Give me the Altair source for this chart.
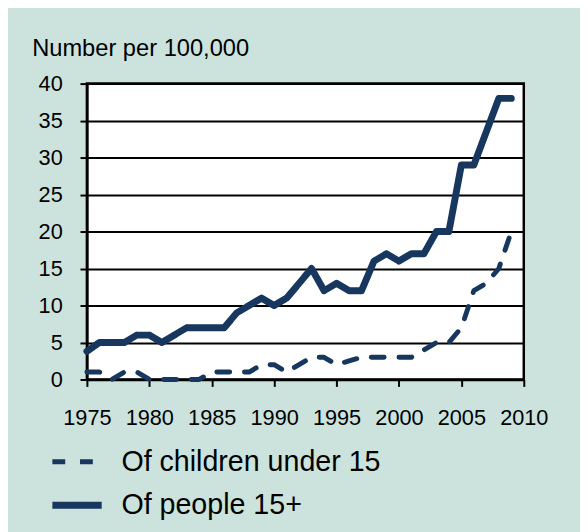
import altair as alt
import pandas as pd

years = list(range(1975, 2010))
people_15_plus = [3.8, 5, 5, 5, 6, 6, 5, 6, 7, 7,
                  7, 7, 9, 10, 11, 10, 11, 13, 15, 12,
                  13, 12, 12, 16, 17, 16, 17, 17, 20, 20,
                  29, 29, 33.5, 38, 38]
children_under_15 = [1, 1, 0, 1, 1, 0, 0, 0, 0, 0,
                     1, 1, 1, 1, 2, 2, 1, 2, 3, 3,
                     2, 2.5, 3, 3, 3, 3, 3, 4, 5, 5,
                     7, 12, 13, 15, 20]
series_names = ["Of children under 15", "Of people 15+"]
x_ticks = [1975, 1980, 1985, 1990, 1995, 2000, 2005, 2010]
y_ticks = [0, 5, 10, 15, 20, 25, 30, 35, 40]

df = pd.DataFrame({
    "year": years + years,
    "value": children_under_15 + people_15_plus,
    "series": [series_names[0]] * len(years) + [series_names[1]] * len(years),
})

FONT = "Liberation Sans, Arial, sans-serif"
NAVY = "#17375e"

legend = alt.Legend(
    title=None, orient="none", legendX=-38.5, legendY=356,
    symbolType="stroke", symbolSize=2500, symbolStrokeColor=NAVY,
    labelFont=FONT, labelFontSize=29, labelColor="black", labelLimit=500,
    labelOffset=16.5, rowPadding=-10, padding=0, symbolOffset=0,
)

chart = alt.Chart(df).mark_line(
    color=NAVY, strokeCap="round", strokeJoin="round"
).encode(
    x=alt.X("year:Q",
            scale=alt.Scale(domain=[1975, 2010], nice=False, zero=False),
            axis=alt.Axis(values=x_ticks, format="d", title=None, grid=False,
                          tickSize=7, tickWidth=2, tickColor="black",
                          domainColor="black", domainWidth=2.5,
                          labelFont=FONT, labelFontSize=22, labelColor="black",
                          labelPadding=22, labelFlush=False)),
    y=alt.Y("value:Q",
            scale=alt.Scale(domain=[0, 40], nice=False),
            axis=alt.Axis(values=y_ticks, title="Number per 100,000",
                          titleAngle=0, titleAlign="left", titleBaseline="alphabetic",
                          titleX=-56, titleY=-28, titleFont=FONT, titleFontSize=24,
                          titleFontWeight="normal", titleColor="black",
                          grid=True, gridColor="black", gridWidth=2, gridOpacity=1,
                          tickSize=7, tickWidth=2, tickColor="black",
                          domainColor="black", domainWidth=2.5,
                          labelFont=FONT, labelFontSize=22, labelColor="black",
                          labelPadding=18)),
    strokeDash=alt.StrokeDash("series:N",
                              scale=alt.Scale(domain=series_names, range=[[13, 15], [1, 0]]),
                              legend=legend),
    strokeWidth=alt.StrokeWidth("series:N",
                                scale=alt.Scale(domain=series_names, range=[5, 7]),
                                legend=legend),
).properties(
    width=443, height=300,
    autosize=alt.AutoSizeParams(type="none"),
    padding={"left": 80, "top": 73, "right": 57, "bottom": 151},
    background="#cce3dd",
).configure_view(
    fill="white", stroke="black", strokeWidth=2.5
)

chart.save("out.html", embed_options={"renderer": "svg", "actions": False})
